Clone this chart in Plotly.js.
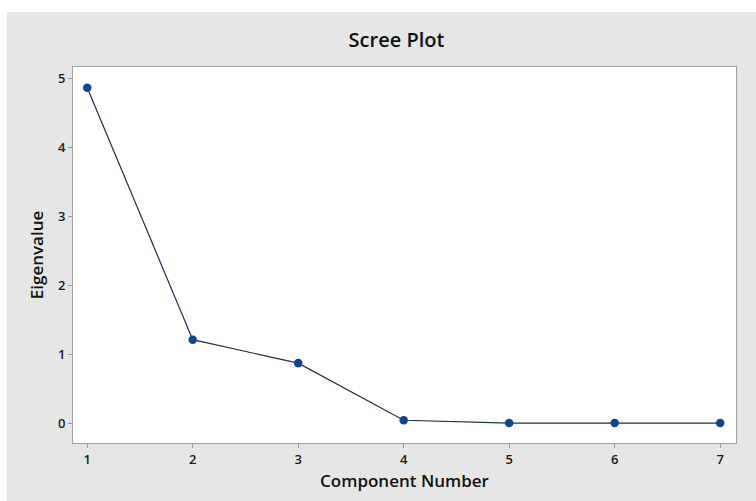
<!DOCTYPE html>
<html>
<head>
<meta charset="utf-8">
<script src="https://cdn.plot.ly/plotly-3.0.1.min.js"></script>
<style>
html,body{margin:0;padding:0;background:#ffffff;width:756px;height:501px;overflow:hidden;}
#chart{position:absolute;left:7px;top:12px;width:749px;height:489px;}
</style>
</head>
<body>
<div id="chart"></div>
<script>
const components = [1, 2, 3, 4, 5, 6, 7];
const eigenvalues = [4.87, 1.21, 0.87, 0.04, 0.0, 0.0, 0.0];
const xTicks = [1, 2, 3, 4, 5, 6, 7];
const yTicks = [0, 1, 2, 3, 4, 5];

const trace = {
  x: components,
  y: eigenvalues,
  type: 'scatter',
  mode: 'lines+markers',
  line: {color: '#1c2e50', width: 1.2},
  marker: {color: '#0d4590', size: 8.5, symbol: 'circle'},
  hoverinfo: 'x+y'
};

const fontFam = '"Open Sans", "DejaVu Sans", sans-serif';

const layout = {
  width: 749,
  height: 489,
  paper_bgcolor: '#e6e6e6',
  plot_bgcolor: '#ffffff',
  margin: {l: 66, r: 20, t: 55, b: 58},
  showlegend: false,
  title: {
    text: 'Scree Plot',
    font: {family: fontFam, size: 20, color: '#111111', weight: 600},
    x: 0.52, xanchor: 'center',
    y: 0.943, yanchor: 'middle', yref: 'container'
  },
  xaxis: {
    range: [0.865, 7.15],
    tickvals: xTicks,
    ticktext: xTicks.map(String),
    ticks: 'outside', ticklen: 4, tickcolor: '#999999', tickwidth: 1,
    showgrid: false, zeroline: false,
    showline: true, linecolor: '#a0a0a0', linewidth: 1, mirror: true,
    tickfont: {family: fontFam, size: 13, color: '#1a1a1a', weight: 600},
    title: {text: 'Component Number', font: {family: fontFam, size: 17, color: '#111111', weight: 600}, standoff: 8}
  },
  yaxis: {
    range: [-0.29, 5.17],
    tickvals: yTicks,
    ticktext: yTicks.map(String),
    ticks: 'outside', ticklen: 4, tickcolor: '#999999', tickwidth: 1,
    showgrid: false, zeroline: false,
    showline: true, linecolor: '#a0a0a0', linewidth: 1, mirror: true,
    tickfont: {family: fontFam, size: 13, color: '#1a1a1a', weight: 600},
    title: {text: 'Eigenvalue', font: {family: fontFam, size: 17, color: '#111111', weight: 600}, standoff: 10}
  }
};

Plotly.newPlot('chart', [trace], layout, {displayModeBar: false, staticPlot: true});
</script>
</body>
</html>
